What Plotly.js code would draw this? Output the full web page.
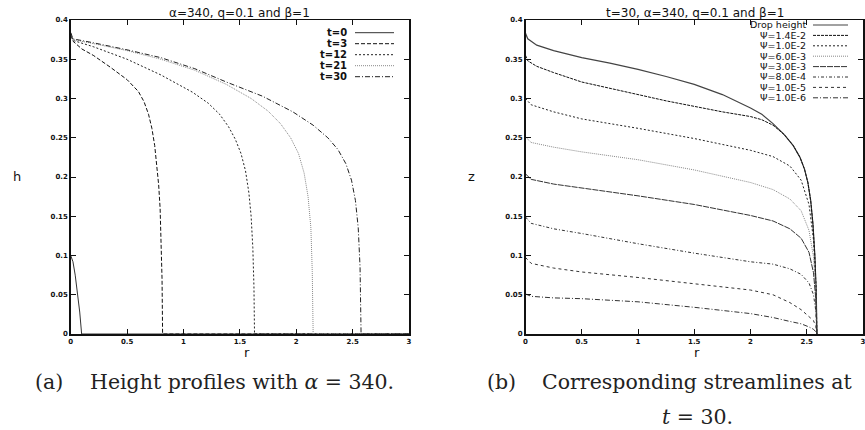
<!DOCTYPE html>
<html><head><meta charset="utf-8">
<script src="https://cdn.plot.ly/plotly-3.0.1.min.js"></script>
<style>html,body{margin:0;padding:0;background:#fff;}</style>
</head><body>
<div id="chart" style="width:865px;height:430px;"></div>
<script>
// ---------- Left panel: height profiles h(r) at several times ----------
const r_t0  = [0, 0.02, 0.04, 0.06, 0.08, 0.097, 3];
const h_t0  = [0.1, 0.092, 0.075, 0.052, 0.028, 0, 0];

const r_t3  = [0, 0.02, 0.1, 0.2, 0.35, 0.5, 0.6, 0.65, 0.69, 0.72, 0.745, 0.765, 0.78, 0.793, 0.803, 0.81, 0.815, 3];
const h_t3  = [0.381, 0.373, 0.363, 0.355, 0.34, 0.324, 0.309, 0.296, 0.28, 0.262, 0.24, 0.215, 0.19, 0.16, 0.12, 0.07, 0, 0];

const r_t12 = [0, 0.02, 0.2, 0.5, 0.8, 1.08, 1.22, 1.32, 1.4, 1.46, 1.51, 1.55, 1.58, 1.6, 1.615, 1.625, 1.63, 3];
const h_t12 = [0.383, 0.374, 0.366, 0.35, 0.33, 0.308, 0.294, 0.28, 0.264, 0.248, 0.23, 0.208, 0.18, 0.15, 0.11, 0.06, 0, 0];

const r_t21 = [0, 0.02, 0.2, 0.5, 0.8, 1.1, 1.38, 1.6, 1.75, 1.86, 1.95, 2.02, 2.07, 2.105, 2.13, 2.142, 2.15, 3];
const h_t21 = [0.383, 0.375, 0.37, 0.361, 0.35, 0.336, 0.318, 0.3, 0.284, 0.268, 0.25, 0.23, 0.205, 0.175, 0.135, 0.08, 0, 0];

const r_t30 = [0, 0.02, 0.2, 0.5, 0.8, 1.1, 1.38, 1.7, 1.97, 2.15, 2.28, 2.37, 2.44, 2.49, 2.525, 2.55, 2.566, 2.575, 3];
const h_t30 = [0.384, 0.376, 0.371, 0.362, 0.352, 0.338, 0.321, 0.303, 0.283, 0.266, 0.25, 0.235, 0.217, 0.196, 0.17, 0.135, 0.085, 0, 0];

const leftLabels = ['t=0', 't=3', 't=12', 't=21', 't=30'];

// ---------- Right panel: drop height and streamlines at t=30 ----------
const rDrop    = [0, 0.02, 0.1, 0.25, 0.5, 0.75, 1.0, 1.25, 1.5, 1.75, 2.0, 2.1, 2.2, 2.3, 2.38, 2.44, 2.48, 2.51, 2.535, 2.555, 2.572, 2.585, 2.59];
const zDrop    = [0.383, 0.376, 0.368, 0.361, 0.352, 0.345, 0.337, 0.328, 0.318, 0.305, 0.288, 0.28, 0.268, 0.254, 0.24, 0.225, 0.21, 0.193, 0.17, 0.14, 0.1, 0.05, 0];
const zPsi14e2 = [0.355, 0.348, 0.341, 0.333, 0.321, 0.313, 0.305, 0.297, 0.290, 0.283, 0.277, 0.273, 0.266, 0.254, 0.24, 0.225, 0.21, 0.193, 0.17, 0.14, 0.1, 0.05, 0];

const rStream  = [0, 0.05, 0.25, 0.5, 1.0, 1.5, 2.0, 2.2, 2.35, 2.45, 2.52, 2.56, 2.58, 2.59];
const zPsi10e2 = [0.300, 0.292, 0.283, 0.274, 0.262, 0.249, 0.234, 0.226, 0.214, 0.196, 0.165, 0.120, 0.065, 0];
const zPsi60e3 = [0.251, 0.244, 0.238, 0.232, 0.222, 0.209, 0.193, 0.184, 0.172, 0.157, 0.132, 0.098, 0.055, 0];
const zPsi30e3 = [0.204, 0.197, 0.191, 0.186, 0.176, 0.165, 0.151, 0.144, 0.134, 0.122, 0.104, 0.078, 0.045, 0];
const zPsi80e4 = [0.149, 0.141, 0.134, 0.128, 0.115, 0.103, 0.092, 0.089, 0.083, 0.076, 0.065, 0.050, 0.030, 0];
const zPsi10e5 = [0.0975, 0.090, 0.084, 0.079, 0.072, 0.064, 0.056, 0.050, 0.040, 0.031, 0.022, 0.017, 0.010, 0];
const zPsi10e6 = [0.051, 0.048, 0.046, 0.045, 0.041, 0.034, 0.026, 0.021, 0.016, 0.013, 0.009, 0.006, 0.003, 0];

const rightLabels = ['Drop height', '\u03A8=1.4E-2', '\u03A8=1.0E-2', '\u03A8=6.0E-3',
                     '\u03A8=3.0E-3', '\u03A8=8.0E-4', '\u03A8=1.0E-5', '\u03A8=1.0E-6'];

const xTicks = [0, 0.5, 1, 1.5, 2, 2.5, 3];
const yTicks = [0, 0.05, 0.1, 0.15, 0.2, 0.25, 0.3, 0.35, 0.4];

// ---------- styles ----------
const W = 865, H = 430;
const px = x => x / W;
const py = y => 1 - y / H;

const leftStyles = [
  {color: '#333', width: 1, dash: 'solid'},
  {color: '#111', width: 1, dash: '4px,2px'},
  {color: '#222', width: 1, dash: '2px,2px'},
  {color: '#888', width: 1, dash: '1px,1px'},
  {color: '#222', width: 1, dash: '5px,2px,1px,2px'}
];
const rightStyles = [
  {color: '#444', width: 1.2, dash: 'solid'},
  {color: '#111', width: 1, dash: '3px,1px'},
  {color: '#222', width: 1, dash: '2px,2px'},
  {color: '#888', width: 1, dash: '1px,1px'},
  {color: '#333', width: 1, dash: '6px,1px'},
  {color: '#333', width: 1, dash: '3px,2px,1px,2px'},
  {color: '#333', width: 1, dash: '3px,3px'},
  {color: '#333', width: 1, dash: '5px,2px,1px,2px'}
];

const leftX = [r_t0, r_t3, r_t12, r_t21, r_t30];
const leftY = [h_t0, h_t3, h_t12, h_t21, h_t30];
const rightX = [rDrop, rDrop, rStream, rStream, rStream, rStream, rStream, rStream];
const rightY = [zDrop, zPsi14e2, zPsi10e2, zPsi60e3, zPsi30e3, zPsi80e4, zPsi10e5, zPsi10e6];

const traces = [];
leftX.forEach((xs, i) => traces.push({
  type: 'scatter', mode: 'lines', x: xs, y: leftY[i], name: leftLabels[i],
  xaxis: 'x', yaxis: 'y', line: Object.assign({shape: 'linear'}, leftStyles[i]),
  showlegend: false, hoverinfo: 'skip'
}));
rightY.forEach((ys, i) => traces.push({
  type: 'scatter', mode: 'lines', x: rightX[i], y: ys, name: rightLabels[i],
  xaxis: 'x2', yaxis: 'y2', line: Object.assign({shape: 'linear'}, rightStyles[i]),
  showlegend: false, hoverinfo: 'skip'
}));

const tickFont = {family: 'DejaVu Sans', size: 7, color: '#111', weight: 'bold'};
function axis(domain, range, ticks, anchor) {
  return {
    domain: domain, range: range, anchor: anchor,
    tickmode: 'array', tickvals: ticks, ticktext: ticks.map(String),
    ticks: 'inside', ticklen: 5, tickwidth: 1, tickcolor: '#111',
    showline: true, linewidth: 1.5, linecolor: '#111', mirror: 'ticks',
    showgrid: false, zeroline: false, tickfont: tickFont, fixedrange: true,
    ticklabeloverflow: 'allow'
  };
}
const yDom = [1 - 334 / H, 1 - 20 / H];

const annotations = [];
const shapes = [];
function txt(text, x, y, xanchor, font) {
  annotations.push({text: text, x: px(x), y: py(y), xref: 'paper', yref: 'paper',
    xanchor: xanchor, yanchor: 'middle', showarrow: false, font: font});
}
const titleFont = {family: 'DejaVu Sans', size: 12, color: '#111'};
txt('\u03B1=340, q=0.1 and \u03B2=1', 240, 13, 'center', titleFont);
txt('t=30, \u03B1=340, q=0.1 and \u03B2=1', 695, 13, 'center', titleFont);

const axTitleFont = {family: 'DejaVu Sans', size: 13, color: '#111'};
txt('h', 17, 177, 'center', axTitleFont);
txt('z', 472, 177, 'center', axTitleFont);
txt('r', 247, 352, 'center', axTitleFont);
txt('r', 697, 352, 'center', axTitleFont);

// legends
leftLabels.forEach((lab, i) => {
  const y = 32.7 + 11 * i;
  txt(lab, 349, y, 'right', {family: 'DejaVu Sans', size: 10, color: '#111', weight: 'bold'});
  shapes.push({type: 'line', xref: 'paper', yref: 'paper', x0: px(355), x1: px(394), y0: py(y), y1: py(y),
    line: leftStyles[i]});
});
rightLabels.forEach((lab, i) => {
  const y = 25 + 10.4 * i;
  txt(lab, 808, y, 'right', {family: 'DejaVu Sans', size: 9.5, color: '#111'});
  shapes.push({type: 'line', xref: 'paper', yref: 'paper', x0: px(813), x1: px(848), y0: py(y), y1: py(y),
    line: rightStyles[i]});
});

// captions
const capFont = {family: 'DejaVu Serif', size: 20.5, color: '#222'};
txt('(a)', 33, 382, 'left', capFont);
txt('Height profiles with <i>\u03B1</i> = 340.', 88, 382, 'left', capFont);
txt('(b)', 485, 382, 'left', capFont);
txt('Corresponding streamlines at', 540, 382, 'left', capFont);
txt('<i>t</i> = 30.', 697, 417, 'center', capFont);

const layout = {
  width: W, height: H, margin: {l: 0, r: 0, t: 0, b: 0},
  paper_bgcolor: '#fff', plot_bgcolor: '#fff', showlegend: false,
  xaxis: axis([70.7 / W, 409 / W], [0, 3], xTicks, 'y'),
  yaxis: axis(yDom, [0, 0.4], yTicks, 'x'),
  xaxis2: axis([525.5 / W, 863 / W], [0, 3], xTicks, 'y2'),
  yaxis2: axis(yDom, [0, 0.4], yTicks, 'x2'),
  annotations: annotations, shapes: shapes
};

Plotly.newPlot('chart', traces, layout, {staticPlot: true, displayModeBar: false});
</script>
</body></html>
